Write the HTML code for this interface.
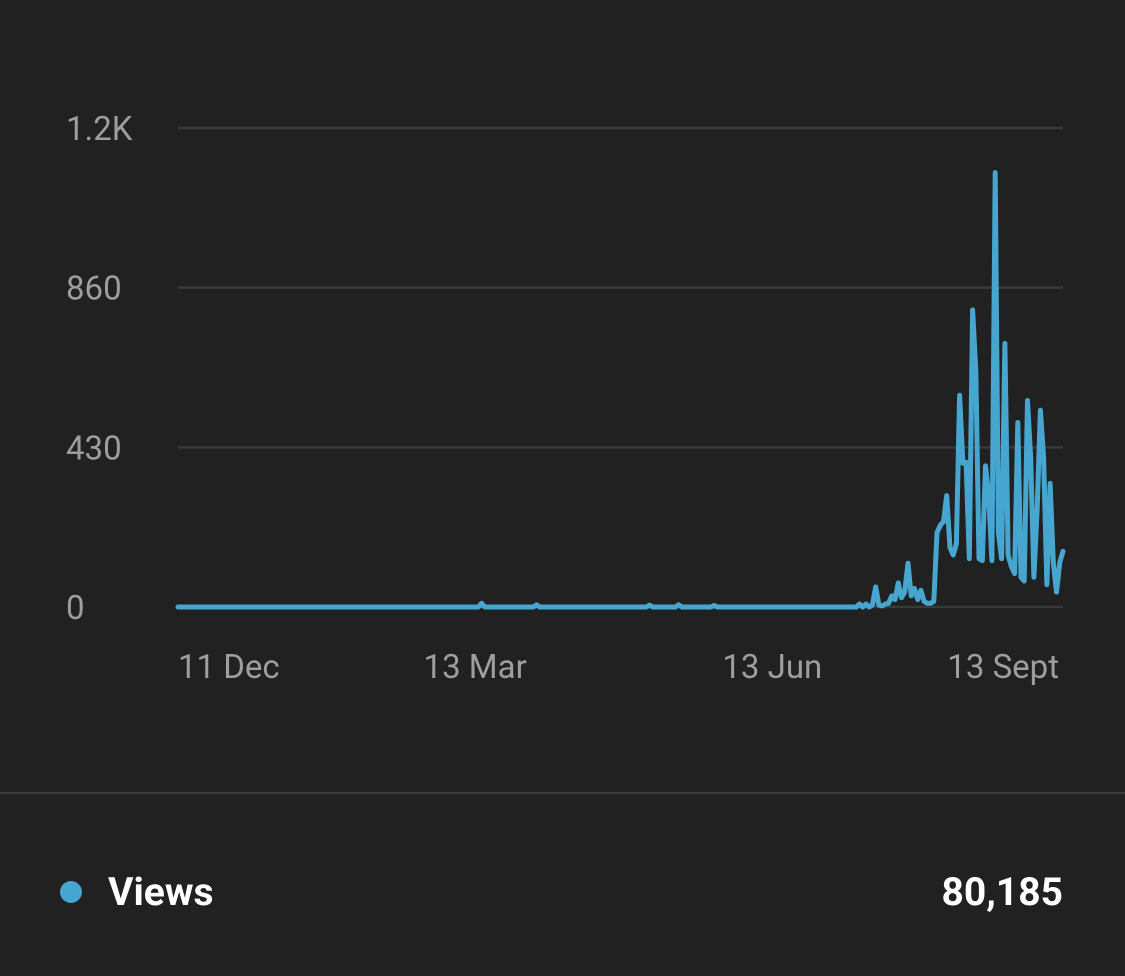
<!DOCTYPE html>
<html><head><meta charset="utf-8"><style>
html,body{margin:0;padding:0;background:#212121;}
svg{display:block;font-family:"Roboto","Liberation Sans",sans-serif;}
</style></head><body>
<svg width="1125" height="976" viewBox="0 0 1125 976" xmlns="http://www.w3.org/2000/svg">
<rect x="0" y="0" width="1125" height="976" fill="#212121"/>
<g id="grid"></g>
<g id="xlabels"></g>
<path id="line" fill="none" stroke="#47a6cf" stroke-width="5" stroke-linejoin="round" stroke-linecap="round"/>
<line x1="0" y1="793" x2="1125" y2="793" stroke="#3a3a3a" stroke-width="2"/>
<circle cx="71" cy="892" r="11" fill="#47a6cf"/>
<text x="108" y="905" font-size="39" font-weight="bold" fill="#ffffff">Views</text>
<text x="1063" y="905" font-size="39" font-weight="bold" fill="#ffffff" text-anchor="end">80,185</text>
</svg>
<script>
const yTicks = [0, 430, 860, 1290];
const yTickLabels = ["0", "430", "860", "1.2K"];
const xTickDays = [0, 92, 184, 276];
const xTickLabels = ["11 Dec", "13 Mar", "13 Jun", "13 Sept"];
const views = [
0,0,0,0,0,0,0,0,0,0,0,0,0,0,0,0,0,0,0,0,
0,0,0,0,0,0,0,0,0,0,0,0,0,0,0,0,0,0,0,0,
0,0,0,0,0,0,0,0,0,0,0,0,0,0,0,0,0,0,0,0,
0,0,0,0,0,0,0,0,0,0,0,0,0,0,0,0,0,0,0,0,
0,0,0,0,0,0,0,0,0,0,0,0,0,0,10,0,0,0,0,0,
0,0,0,0,0,0,0,0,0,0,0,6,0,0,0,0,0,0,0,0,
0,0,0,0,0,0,0,0,0,0,0,0,0,0,0,0,0,0,0,0,
0,0,0,0,0,0,5,0,0,0,0,0,0,0,0,6,0,0,0,0,
0,0,0,0,0,0,4,0,0,0,0,0,0,0,0,0,0,0,0,0,
0,0,0,0,0,0,0,0,0,0,0,0,0,0,0,0,0,0,0,0,
0,0,0,0,0,0,0,0,0,0,
0,8,0,8,0,5,54,5,3,8,10,30,20,65,25,40,118,30,50,20,
45,15,10,10,15,200,220,230,300,160,140,170,570,387,390,130,800,637,130,125,
380,300,125,1170,200,130,710,140,110,90,497,80,70,556,400,80,266,530,403,60,
333,120,40,120,150
];
const X0 = 178, X1 = 1063, Y0 = 607, Ytop = 128;
const nDays = views.length;
const xs = d => X0 + d * (X1 - X0) / (nDays - 1);
const ys = v => Y0 - v / 1290 * (Y0 - Ytop);
const NS = "http://www.w3.org/2000/svg";
const grid = document.getElementById("grid");
yTicks.forEach((t, i) => {
  const y = ys(t);
  const l = document.createElementNS(NS, "line");
  
  
  l.setAttribute("x1", X0); l.setAttribute("x2", X1);
  l.setAttribute("y1", y); l.setAttribute("y2", y);
  l.setAttribute("stroke", "#3a3a3a"); l.setAttribute("stroke-width", "2.5");
  grid.appendChild(l);
  const tx = document.createElementNS(NS, "text");
  
  
  tx.setAttribute("x", 66); tx.setAttribute("y", y + 12);
  tx.setAttribute("font-size", "33"); tx.setAttribute("fill", "#9e9e9e");
  tx.textContent = yTickLabels[i];
  grid.appendChild(tx);
});
const xl = document.getElementById("xlabels");
xTickDays.forEach((d, i) => {
  let x = xs(d), anchor = "middle";
  if (i === 0) anchor = "start";
  if (x > X1 - 10) { x = X1 - 4; anchor = "end"; }
  const tx = document.createElementNS(NS, "text");
  
  
  tx.setAttribute("x", x); tx.setAttribute("y", 678);
  tx.setAttribute("text-anchor", anchor);
  tx.setAttribute("font-size", "33"); tx.setAttribute("fill", "#9e9e9e");
  tx.textContent = xTickLabels[i];
  xl.appendChild(tx);
});
let d = "";
views.forEach((v, i) => { d += (i ? "L" : "M") + xs(i).toFixed(1) + "," + ys(v).toFixed(1); });
document.getElementById("line").setAttribute("d", d);
</script>
</body></html>
